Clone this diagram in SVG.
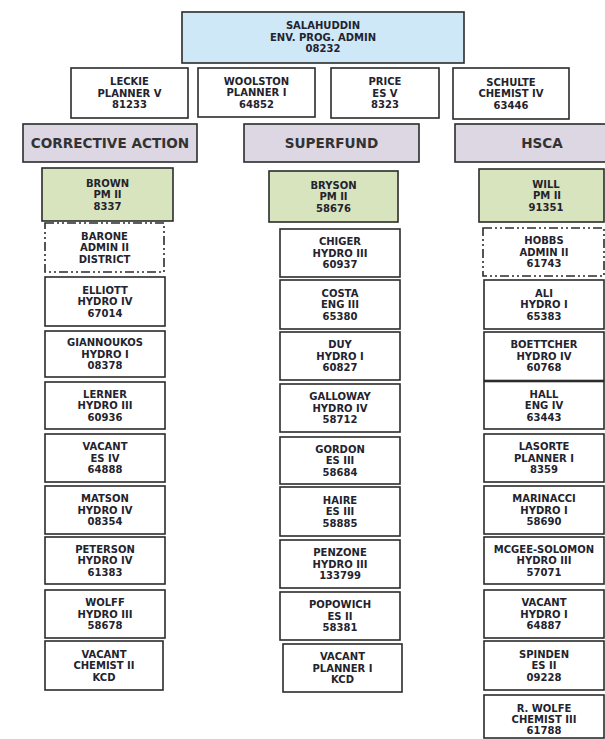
<svg xmlns="http://www.w3.org/2000/svg" width="605" height="739" viewBox="0 0 605 739">
<style>
.b{fill:#ffffff;stroke:#2b2b2b;stroke-width:1.6}
.g{fill:#d7e4bd;stroke:#2b2b2b;stroke-width:1.6}
.bl{fill:#cfe8f8;stroke:#2b2b2b;stroke-width:1.6}
.h{fill:#dcd7e3;stroke:#2b2b2b;stroke-width:1.6}
.d{fill:#ffffff;stroke:#2b2b2b;stroke-width:1.6;stroke-dasharray:9 3 2 3 2 3}
.t{font-family:"DejaVu Sans",Verdana,sans-serif;font-weight:bold;font-size:10px;fill:#23232e;text-anchor:middle}
.ht{font-family:"DejaVu Sans",Verdana,sans-serif;font-weight:bold;font-size:13.6px;fill:#333333;text-anchor:middle}
</style>
<rect width="605" height="739" fill="#ffffff"/>
<g id="connectors"></g>

<g id="salahuddin"><rect class="bl" x="182" y="12" width="282" height="51"/><text class="t"><tspan x="323" y="29">SALAHUDDIN</tspan><tspan x="323" y="40.5">ENV. PROG. ADMIN</tspan><tspan x="323" y="52">08232</tspan></text></g>

<g id="leckie"><rect class="b" x="71" y="68" width="117" height="50"/><text class="t"><tspan x="129.5" y="85.2">LECKIE</tspan><tspan x="129.5" y="96.6">PLANNER V</tspan><tspan x="129.5" y="108">81233</tspan></text></g>
<g id="woolston"><rect class="b" x="198" y="68" width="117" height="49"/><text class="t"><tspan x="256.5" y="84.7">WOOLSTON</tspan><tspan x="256.5" y="96.1">PLANNER I</tspan><tspan x="256.5" y="107.5">64852</tspan></text></g>
<g id="price"><rect class="b" x="331" y="68" width="108" height="50"/><text class="t"><tspan x="385" y="85.2">PRICE</tspan><tspan x="385" y="96.6">ES V</tspan><tspan x="385" y="108">8323</tspan></text></g>
<g id="schulte"><rect class="b" x="453" y="68" width="116" height="51"/><text class="t"><tspan x="511" y="85.7">SCHULTE</tspan><tspan x="511" y="97.1">CHEMIST IV</tspan><tspan x="511" y="108.5">63446</tspan></text></g>

<g id="hdr-corrective"><rect class="h" x="23" y="124" width="174" height="38"/><text class="ht" x="110" y="147.8">CORRECTIVE ACTION</text></g>
<g id="hdr-superfund"><rect class="h" x="244" y="124" width="175" height="38"/><text class="ht" x="331.5" y="147.8">SUPERFUND</text></g>
<g id="hdr-hsca"><rect class="h" x="455" y="124" width="185" height="38"/><text class="ht" x="542" y="147.8">HSCA</text></g>

<!-- Column 1 -->
<g id="brown"><rect class="g" x="42" y="168" width="131" height="53"/><text class="t"><tspan x="107.5" y="186.7">BROWN</tspan><tspan x="107.5" y="198.1">PM II</tspan><tspan x="107.5" y="209.5">8337</tspan></text></g>
<g id="barone"><rect class="d" x="45" y="223" width="119" height="49"/><text class="t"><tspan x="104.5" y="239.7">BARONE</tspan><tspan x="104.5" y="251.1">ADMIN II</tspan><tspan x="104.5" y="262.5">DISTRICT</tspan></text></g>
<g id="elliott"><rect class="b" x="45" y="277" width="120" height="49"/><text class="t"><tspan x="105" y="293.7">ELLIOTT</tspan><tspan x="105" y="305.1">HYDRO IV</tspan><tspan x="105" y="316.5">67014</tspan></text></g>
<g id="giannoukos"><rect class="b" x="45" y="331" width="120" height="46"/><text class="t"><tspan x="105" y="346.2">GIANNOUKOS</tspan><tspan x="105" y="357.6">HYDRO I</tspan><tspan x="105" y="369">08378</tspan></text></g>
<g id="lerner"><rect class="b" x="45" y="382" width="120" height="47"/><text class="t"><tspan x="105" y="397.7">LERNER</tspan><tspan x="105" y="409.1">HYDRO III</tspan><tspan x="105" y="420.5">60936</tspan></text></g>
<g id="vacant-es4"><rect class="b" x="45" y="434" width="120" height="48"/><text class="t"><tspan x="105" y="450.2">VACANT</tspan><tspan x="105" y="461.6">ES IV</tspan><tspan x="105" y="473">64888</tspan></text></g>
<g id="matson"><rect class="b" x="45" y="486" width="120" height="48"/><text class="t"><tspan x="105" y="502.2">MATSON</tspan><tspan x="105" y="513.6">HYDRO IV</tspan><tspan x="105" y="525">08354</tspan></text></g>
<g id="peterson"><rect class="b" x="45" y="537" width="120" height="47"/><text class="t"><tspan x="105" y="552.7">PETERSON</tspan><tspan x="105" y="564.1">HYDRO IV</tspan><tspan x="105" y="575.5">61383</tspan></text></g>
<g id="wolff"><rect class="b" x="45" y="590" width="120" height="48"/><text class="t"><tspan x="105" y="606.2">WOLFF</tspan><tspan x="105" y="617.6">HYDRO III</tspan><tspan x="105" y="629">58678</tspan></text></g>
<g id="vacant-chem2"><rect class="b" x="45" y="641" width="118" height="49"/><text class="t"><tspan x="104" y="657.7">VACANT</tspan><tspan x="104" y="669.1">CHEMIST II</tspan><tspan x="104" y="680.5">KCD</tspan></text></g>

<!-- Column 2 -->
<g id="bryson"><rect class="g" x="269" y="171" width="129" height="51"/><text class="t"><tspan x="333.5" y="188.7">BRYSON</tspan><tspan x="333.5" y="200.1">PM II</tspan><tspan x="333.5" y="211.5">58676</tspan></text></g>
<g id="chiger"><rect class="b" x="280" y="229" width="120" height="48"/><text class="t"><tspan x="340" y="245.2">CHIGER</tspan><tspan x="340" y="256.6">HYDRO III</tspan><tspan x="340" y="268">60937</tspan></text></g>
<g id="costa"><rect class="b" x="280" y="280" width="120" height="49"/><text class="t"><tspan x="340" y="296.7">COSTA</tspan><tspan x="340" y="308.1">ENG III</tspan><tspan x="340" y="319.5">65380</tspan></text></g>
<g id="duy"><rect class="b" x="280" y="332" width="120" height="48"/><text class="t"><tspan x="340" y="348.2">DUY</tspan><tspan x="340" y="359.6">HYDRO I</tspan><tspan x="340" y="371">60827</tspan></text></g>
<g id="galloway"><rect class="b" x="280" y="384" width="120" height="48"/><text class="t"><tspan x="340" y="400.2">GALLOWAY</tspan><tspan x="340" y="411.6">HYDRO IV</tspan><tspan x="340" y="423">58712</tspan></text></g>
<g id="gordon"><rect class="b" x="280" y="437" width="120" height="47"/><text class="t"><tspan x="340" y="452.7">GORDON</tspan><tspan x="340" y="464.1">ES III</tspan><tspan x="340" y="475.5">58684</tspan></text></g>
<g id="haire"><rect class="b" x="280" y="487" width="120" height="49"/><text class="t"><tspan x="340" y="503.7">HAIRE</tspan><tspan x="340" y="515.1">ES III</tspan><tspan x="340" y="526.5">58885</tspan></text></g>
<g id="penzone"><rect class="b" x="280" y="540" width="120" height="48"/><text class="t"><tspan x="340" y="556.2">PENZONE</tspan><tspan x="340" y="567.6">HYDRO III</tspan><tspan x="340" y="579">133799</tspan></text></g>
<g id="popowich"><rect class="b" x="280" y="592" width="120" height="48"/><text class="t"><tspan x="340" y="608.2">POPOWICH</tspan><tspan x="340" y="619.6">ES II</tspan><tspan x="340" y="631">58381</tspan></text></g>
<g id="vacant-planner1"><rect class="b" x="283" y="644" width="119" height="48"/><text class="t"><tspan x="342.5" y="660.2">VACANT</tspan><tspan x="342.5" y="671.6">PLANNER I</tspan><tspan x="342.5" y="683">KCD</tspan></text></g>

<!-- Column 3 -->
<g id="will"><rect class="g" x="479" y="169" width="125" height="53"/><text class="t"><tspan x="546" y="187.7">WILL</tspan><tspan x="547" y="199.1">PM II</tspan><tspan x="546" y="210.5">91351</tspan></text></g>
<g id="hobbs"><rect class="d" x="483" y="228" width="121" height="48"/><text class="t"><tspan x="544" y="244.2">HOBBS</tspan><tspan x="544" y="255.6">ADMIN II</tspan><tspan x="544" y="267">61743</tspan></text></g>
<g id="ali"><rect class="b" x="484" y="280" width="120" height="49"/><text class="t"><tspan x="544" y="296.7">ALI</tspan><tspan x="544" y="308.1">HYDRO I</tspan><tspan x="544" y="319.5">65383</tspan></text></g>
<g id="boettcher"><rect class="b" x="484" y="332" width="120" height="48.5"/><text class="t"><tspan x="544" y="348.2">BOETTCHER</tspan><tspan x="544" y="359.6">HYDRO IV</tspan><tspan x="544" y="371">60768</tspan></text></g>
<g id="hall"><rect class="b" x="484" y="381.5" width="120" height="47.5"/><text class="t"><tspan x="544" y="397.7">HALL</tspan><tspan x="544" y="409.1">ENG IV</tspan><tspan x="544" y="420.5">63443</tspan></text></g>
<g id="lasorte"><rect class="b" x="484" y="434" width="120" height="48"/><text class="t"><tspan x="544" y="450.2">LASORTE</tspan><tspan x="544" y="461.6">PLANNER I</tspan><tspan x="544" y="473">8359</tspan></text></g>
<g id="marinacci"><rect class="b" x="484" y="486" width="120" height="48"/><text class="t"><tspan x="544" y="502.2">MARINACCI</tspan><tspan x="544" y="513.6">HYDRO I</tspan><tspan x="544" y="525">58690</tspan></text></g>
<g id="mcgee-solomon"><rect class="b" x="484" y="537" width="120" height="47"/><text class="t"><tspan x="544" y="552.7">MCGEE-SOLOMON</tspan><tspan x="544" y="564.1">HYDRO III</tspan><tspan x="544" y="575.5">57071</tspan></text></g>
<g id="vacant-hydro1"><rect class="b" x="484" y="590" width="120" height="48"/><text class="t"><tspan x="544" y="606.2">VACANT</tspan><tspan x="544" y="617.6">HYDRO I</tspan><tspan x="544" y="629">64887</tspan></text></g>
<g id="spinden"><rect class="b" x="484" y="641" width="120" height="49"/><text class="t"><tspan x="544" y="657.7">SPINDEN</tspan><tspan x="544" y="669.1">ES II</tspan><tspan x="544" y="680.5">09228</tspan></text></g>
<g id="r-wolfe"><rect class="b" x="484" y="695" width="120" height="43"/><text class="t"><tspan x="544" y="711.6">R. WOLFE</tspan><tspan x="544" y="723">CHEMIST III</tspan><tspan x="544" y="734.4">61788</tspan></text></g>
</svg>
